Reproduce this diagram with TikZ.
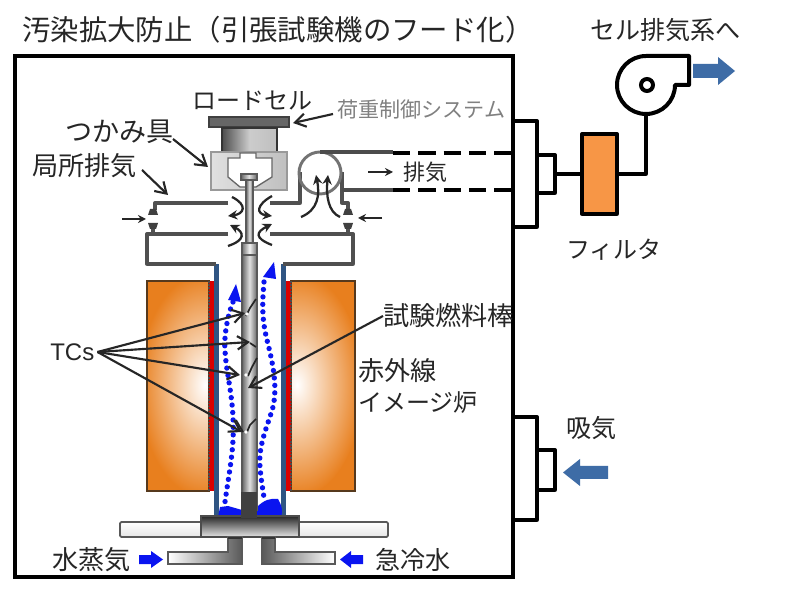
\documentclass[tikz,border=0pt]{standalone}
\usepackage{fontspec}
\setmainfont{Noto Sans CJK JP}
\setsansfont{Liberation Sans}
\usetikzlibrary{arrows.meta}
\definecolor{furn}{HTML}{E87F1E}
\definecolor{navy}{HTML}{2F5583}
\definecolor{steel}{HTML}{3E6CA6}
\definecolor{filt}{HTML}{F79646}
\definecolor{duct}{HTML}{505050}
\definecolor{wat}{HTML}{0A14F0}
\tikzset{
  x=0.75pt,y=-0.75pt,
  lab/.style={inner sep=0pt,anchor=west,text=black!85},
  ftitle/.style={font=\fontsize{21.3pt}{23pt}\selectfont},
  f27/.style={font=\fontsize{20.3pt}{22pt}\selectfont},
  f26/.style={font=\fontsize{19.6pt}{22pt}\selectfont},
  f25/.style={font=\fontsize{18.8pt}{20pt}\selectfont},
  f24/.style={font=\fontsize{18pt}{20pt}\selectfont},
  f22/.style={font=\fontsize{16.5pt}{18pt}\selectfont},
  f21/.style={font=\fontsize{15.8pt}{18pt}\selectfont},
  callout/.style={draw=black!85,line width=1.6pt,-{Straight Barb[length=8pt,width=10pt]}},
  thick line/.style={draw=black,line width=2.5pt,line join=round},
  ductline/.style={draw=duct,line width=2.5pt,line join=round},
  rodshade/.style={left color=black!60,right color=black!60,middle color=black!12,draw=black!65,line width=.8pt},
  dots/.style={draw=wat,line width=4pt,line cap=round,dash pattern=on 0pt off 5.6pt},
  bluearrow/.style={fill=wat},
  steelarrow/.style={fill=steel},
  flowarrow/.style={draw=black!85,line width=1.7pt,-{Stealth[length=7pt,width=7pt]}},
  tcwire/.style={draw=black!85,line width=1.3pt},
}
\begin{document}
\begin{tikzpicture}
\useasboundingbox (0,0) rectangle (800,591);
\fill[white] (0,0) rectangle (800,591);

% side hoods and outer box
\draw[thick line,fill=white] (513,121) rectangle (537,227);
\draw[thick line,fill=white] (537,155) rectangle (555,193);
\draw[thick line,fill=white] (513,417) rectangle (537,520);
\draw[thick line,fill=white] (537,450) rectangle (555,490);
\draw[draw=black,line width=2.6pt] (15,56) rectangle (513,577);

% furnace
\foreach \xa/\xb/\cx in {147/209/205, 291/355/297}{
  \begin{scope}
    \clip (\xa,281) rectangle (\xb,491);
    \fill[furn] (\xa,281) rectangle (\xb,491);
    \shade[inner color=white,outer color=furn] (\cx,385) ellipse [x radius=66,y radius=112];
  \end{scope}
  \draw[draw=black!55!brown,line width=1pt] (\xa,281) rectangle (\xb,491);
}
\fill[red!85!black] (209,281) rectangle (214,491);
\fill[red!85!black] (286,281) rectangle (291,491);
\draw[black!70,line width=.9pt,dash pattern=on 1.2pt off 1.2pt] (209,281) -- (209,491);
\draw[black!70,line width=.9pt,dash pattern=on 1.2pt off 1.2pt] (291,281) -- (291,491);

% quartz tube
\fill[navy] (214,264) rectangle (219,518);
\fill[navy] (281,264) rectangle (286,518);

% water
\fill[wat] (220,507) -- (228,506) -- (242,510) -- (242,517) -- (218,517) -- cycle;
\fill[wat] (257,507) .. controls (264,500) and (270,498) .. (278,499) .. controls (282,505) and (283,512) .. (281,517) -- (257,517) -- cycle;

% hood ducts
\draw[ductline] (228,203) -- (155,203) -- (155,210);
\draw[ductline] (228,234) -- (147,234) -- (147,264) -- (216,264);
\draw[ductline] (270,234) -- (353,234) -- (353,264) -- (283,264);
\draw[ductline] (270,203) -- (300,203) -- (300,172);
\draw[ductline] (342,172) -- (342,203) -- (348,203) -- (348,210);
\draw[draw=black!55,line width=2.2pt] (320,173) circle [radius=21];
\draw[draw=black!70,line width=2.5pt] (320,152) -- (393,152);
\draw[draw=black!70,line width=2.5pt] (342,190) -- (393,190);
\draw[draw=black,line width=2.5pt,dash pattern=on 13pt off 6pt] (393,153) -- (512,153);
\draw[draw=black,line width=2.5pt,dash pattern=on 13pt off 6pt] (393,190) -- (512,190);
\foreach \fx in {153,348}{
  \fill[black!75] (\fx-3,209) -- (\fx+3,209) -- (\fx+5,215) -- (\fx-5,215) -- cycle;
  \fill[black!75] (\fx-5,223) -- (\fx+5,223) -- (\fx+3,229) -- (\fx-3,229) -- cycle;
  \draw[ductline] (\fx,229) -- (\fx,234);
}

% load cell and grip
\draw[fill=black!60,draw=black!75,line width=1pt] (209,117) rectangle (289,127);
\shade[left color=black!70,right color=black!25,middle color=black!20,draw=black!80,line width=1.2pt] (222,128) rectangle (277,153);
\shade[left color=black!12,right color=black!25,draw=black!40,line width=.8pt] (211,152) rectangle (287,190);
\path[fill=white,draw=black!60,line width=1pt] (240,153) -- (256,153) -- (256,158) -- (272,158) -- (272,177) -- (256,187) -- (240,187) -- (228,177) -- (228,158) -- (240,158) -- cycle;

% rod
\shade[rodshade] (246,180) rectangle (253,243);
\shade[rodshade] (241,174) rectangle (257,180);
\shade[rodshade] (242,255) rectangle (257,510);
\shade[left color=black!55,right color=black!55,middle color=black!5,draw=black!65,line width=.8pt] (242,243) rectangle (257,255);

% bottom parts
\shade[top color=white,bottom color=black!10,draw=black!65,line width=1.4pt,rounded corners=1pt] (120,522) rectangle (388,537);
\shade[top color=black!85,bottom color=black!10,draw=black!70,line width=1.2pt] (201,516) rectangle (299,537);
\fill[black!75] (241,492) rectangle (257,518);
\shade[left color=white,right color=black!65,draw=black!65,line width=1.4pt] (168,552) -- (228,552) -- (228,537) -- (242,537) -- (242,564) -- (168,564) -- cycle;
\shade[left color=black!65,right color=white,draw=black!65,line width=1.4pt] (335,552) -- (275,552) -- (275,537) -- (262,537) -- (262,564) -- (335,564) -- cycle;
\fill[black!80] (228,537) rectangle (242,539);
\fill[black!80] (262,537) rectangle (275,539);

% flow dots
\draw[dots] (233,302) .. controls (226,320) and (224,340) .. (225,350) .. controls (226,375) and (235,400) .. (233,440) .. controls (232,460) and (228,480) .. (225,502);
\fill[wat] (236,284) -- (241,302) -- (228,300) -- cycle;
\draw[dots] (264,282) .. controls (262,305) and (262,320) .. (267,340) .. controls (272,360) and (278,385) .. (273,407) .. controls (268,425) and (258,445) .. (260,467) .. controls (261,480) and (263,490) .. (264,498);
\fill[wat] (274,262) -- (276,279) -- (263,277) -- cycle;

% thermocouple wires
\draw[tcwire] (246,316) -- (250,308) -- (256,299);
\draw[tcwire] (252,367) -- (257,358);
\draw[tcwire] (248,376) -- (252,367);
\draw[tcwire] (250,343) -- (256,347);
\draw[tcwire] (247,432) -- (250,425) -- (256,419);
\draw[tcwire] (236,420) -- (243,432);
\fill[white] (246,432) circle [radius=1.8];
\fill[white] (246,375) circle [radius=1.8];
\fill[white] (247,314) circle [radius=1.8];

% local exhaust flow arrows
\draw[flowarrow] (232,197) .. controls (248,205) and (244,214) .. (228,216);
\draw[flowarrow] (272,196) .. controls (256,205) and (256,214) .. (272,216);
\draw[flowarrow] (228,246) .. controls (246,240) and (244,232) .. (230,225);
\draw[flowarrow] (272,245) .. controls (254,238) and (256,232) .. (272,224);
\draw[flowarrow] (301,217) .. controls (318,210) and (320,195) .. (316,175);
\draw[flowarrow] (340,217) .. controls (328,212) and (326,195) .. (328,175);

% plain arrows
\coordinate (inL) at (122,219);
\coordinate (inLe) at (146,219);
\coordinate (inR) at (382,218);
\coordinate (inRe) at (358,218);
\coordinate (exA) at (368,172);
\coordinate (exB) at (393,172);
\draw[draw=black!85,line width=1.4pt,-{Stealth[length=6pt,width=6pt]}] (inL) -- (inLe);
\draw[draw=black!85,line width=1.4pt,-{Stealth[length=6pt,width=6pt]}] (inR) -- (inRe);
\draw[draw=black!85,line width=1.4pt,-{Stealth[length=6pt,width=6pt]}] (exA) -- (exB);

% blue arrows
\fill[bluearrow] (139,555) -- (151,555) -- (151,551) -- (163,559.5) -- (151,568) -- (151,564) -- (139,564) -- cycle;
\fill[bluearrow] (363,555) -- (351,555) -- (351,551) -- (340,559.5) -- (351,568) -- (351,564) -- (363,564) -- cycle;
\fill[steelarrow] (693,64) -- (718,64) -- (718,57) -- (735,71) -- (718,85) -- (718,78) -- (693,78) -- cycle;
\fill[steelarrow] (608,466) -- (580,466) -- (580,459) -- (563,472.5) -- (580,486) -- (580,479) -- (608,479) -- cycle;

% filter and blower
\draw[thick line,fill=filt] (582,134) rectangle (617,214);
\coordinate (blowin) at (646,114);
\draw[thick line] (555,174) -- (582,174);
\draw[thick line] (617,174) -- (646,174) -- (blowin);
\draw[draw=black,line width=3pt,line join=round,fill=white] (675,85) arc [start angle=0,end angle=270,radius=29] -- (689,56) -- (689,85) -- cycle;
\draw[draw=black,line width=3pt] (647,85) circle [radius=6];

% labels
\node[lab,ftitle] (title) at (22,30) {汚染拡大防止（引張試験機のフード化）};
\node[lab,f25] (cellexh) at (590,30) {セル排気系へ};
\node[lab,f24] (loadcell) at (192,101) {ロードセル};
\node[lab,f21,text=black!50] (loadsys) at (337,109) {荷重制御システム};
\node[lab,f27] (grip) at (65,132) {つかみ具};
\node[lab,f26] (localex) at (32,166) {局所排気};
\node[lab,f22] (exlab) at (403,172) {排気};
\node[lab,f24] (filterlab) at (566,250) {フィルタ};
\node[lab,f26] (fuelrod) at (383,316) {試験燃料棒};
\node[lab,f26] (irtop) at (358,371) {赤外線};
\node[lab,f24] (irbot) at (358,403) {イメージ炉};
\node[lab,f25] (intake) at (566,428) {吸気};
\node[lab,f26] (steam) at (52,560) {水蒸気};
\node[lab,f25] (quench) at (375,560) {急冷水};
\node[lab,font=\sffamily\fontsize{18pt}{20pt}\selectfont] (tcs) at (50,352) {TCs};

% callouts
\coordinate (tLoad) at (293,123);
\coordinate (tGrip) at (208,167);
\coordinate (tHood) at (168,195);
\coordinate (tc1) at (245,313);
\coordinate (tc2) at (250,342);
\coordinate (tc3) at (240,375);
\coordinate (tc4) at (242,432);
\coordinate (tRod) at (248,388);
\draw[callout] (333,114) -- (tLoad);
\draw[callout] (173,139) -- (tGrip);
\draw[callout] (142,170) -- (tHood);
\draw[callout] (tcs.east) ++(3,0) -- (tc1);
\draw[callout] (tcs.east) ++(3,0) -- (tc2);
\draw[callout] (tcs.east) ++(3,0) -- (tc3);
\draw[callout] (tcs.east) ++(3,0) -- (tc4);
\draw[callout] (fuelrod.west) -- (tRod);
\end{tikzpicture}
\end{document}
